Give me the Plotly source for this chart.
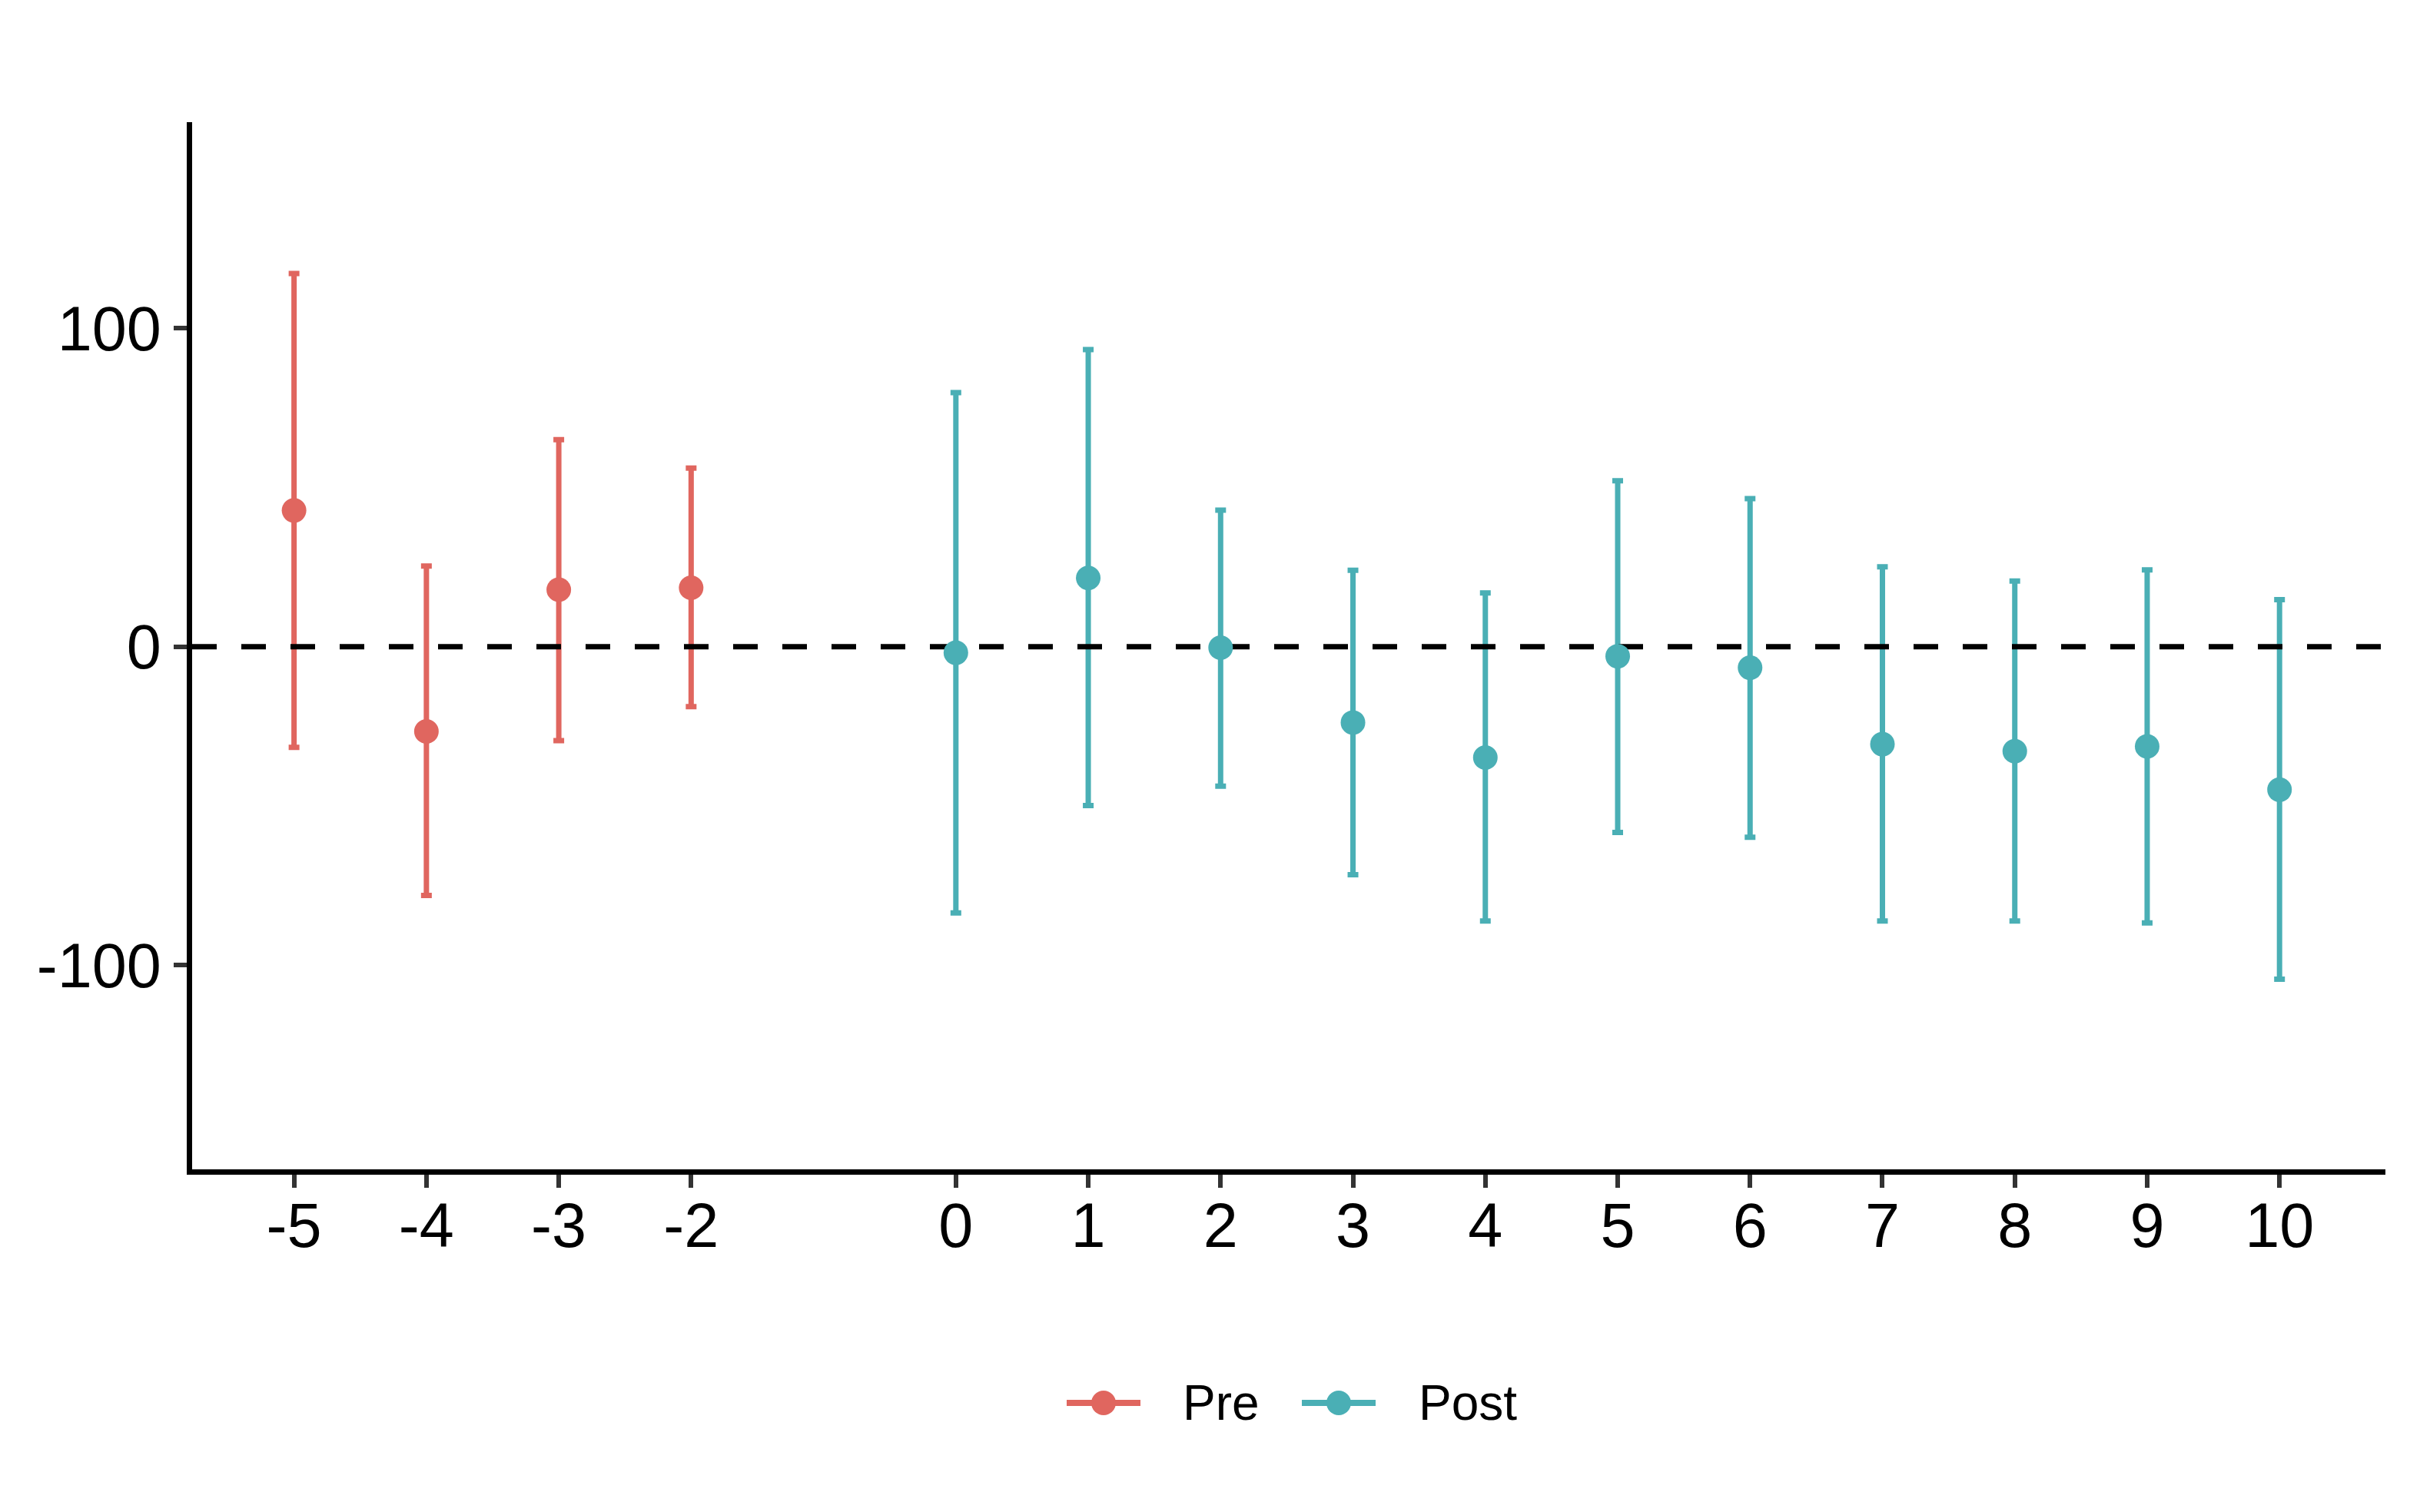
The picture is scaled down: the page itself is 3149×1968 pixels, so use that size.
import plotly.graph_objects as go

# ---- data ----
pre_x = [-5, -4, -3, -2]
pre_est = [42.8, -26.6, 17.9, 18.5]
pre_low = [-31.6, -78.1, -29.5, -18.8]
pre_high = [117.2, 25.3, 65.0, 56.1]

post_x = [0, 1, 2, 3, 4, 5, 6, 7, 8, 9, 10]
post_est = [-1.9, 21.6, -0.3, -23.8, -34.8, -3.0, -6.6, -30.6, -32.8, -31.3, -44.9]
post_low = [-83.6, -49.9, -43.8, -71.6, -86.1, -58.3, -59.8, -86.1, -86.1, -86.7, -104.4]
post_high = [79.8, 93.3, 42.9, 24.0, 16.9, 52.1, 46.5, 25.1, 20.6, 24.1, 14.8]

x_ticks = [-5, -4, -3, -2, 0, 1, 2, 3, 4, 5, 6, 7, 8, 9, 10]
y_ticks = [-100, 0, 100]
ref_y = 0
x_range = [-5.77, 10.8]
y_range = [-164.1, 164.7]

PRE_COL = "#E0665F"
POST_COL = "#4AAFB5"
FONT = "Liberation Sans, Arial, sans-serif"

W, H = 3149, 1968
L, R, T, B = 250, 45, 159, 446

fig = go.Figure()

# error bars (ranges)
for xs, est, lo, hi, col in [(pre_x, pre_est, pre_low, pre_high, PRE_COL),
                             (post_x, post_est, post_low, post_high, POST_COL)]:
    fig.add_trace(go.Scatter(
        x=xs, y=est, mode="markers",
        marker=dict(size=1, color=col, opacity=0),
        error_y=dict(type="data", symmetric=False,
                     array=[h - e for h, e in zip(hi, est)],
                     arrayminus=[e - l for e, l in zip(est, lo)],
                     color=col, thickness=7, width=7),
        showlegend=False, hoverinfo="skip"))

# dashed reference line
fig.add_trace(go.Scatter(
    x=x_range, y=[ref_y, ref_y], mode="lines",
    line=dict(color="black", width=7, dash="32px,32px"),
    showlegend=False, hoverinfo="skip", cliponaxis=False))

# points
for xs, est, col, name in [(pre_x, pre_est, PRE_COL, "Pre"),
                           (post_x, post_est, POST_COL, "Post")]:
    fig.add_trace(go.Scatter(
        x=xs, y=est, mode="markers",
        marker=dict(size=32, color=col, line=dict(width=0)),
        name=name, showlegend=False))

# ---- manual legend (pixel positions) ----
PW = W - L - R
PH = H - T - B


def px2paper_x(px):
    return (px - L) / PW


def py2paper_y(py):
    return (H - B - py) / PH


legend_items = [("Pre", PRE_COL, 1436, 1537), ("Post", POST_COL, 1742, 1844)]
leg_y = 1826
shapes = []
annotations = []
for name, col, cx, tx in legend_items:
    ax = px2paper_x(cx)
    ay = py2paper_y(leg_y)
    shapes.append(dict(type="line", xref="paper", yref="paper",
                       xsizemode="pixel", ysizemode="pixel",
                       xanchor=ax, yanchor=ay, x0=-48, x1=48, y0=0, y1=0,
                       line=dict(color=col, width=8)))
    shapes.append(dict(type="circle", xref="paper", yref="paper",
                       xsizemode="pixel", ysizemode="pixel",
                       xanchor=ax, yanchor=ay, x0=-16, x1=16, y0=-16, y1=16,
                       fillcolor=col, line=dict(width=0)))
    annotations.append(dict(text=name, xref="paper", yref="paper",
                            x=px2paper_x(tx), y=ay, xanchor="left", yanchor="middle",
                            showarrow=False, font=dict(family=FONT, size=64, color="black")))

fig.update_layout(
    width=W, height=H,
    margin=dict(l=L, r=R, t=T, b=B, pad=0),
    paper_bgcolor="white", plot_bgcolor="white",
    font=dict(family=FONT, color="black"),
    shapes=shapes, annotations=annotations,
    showlegend=False,
    xaxis=dict(range=x_range, tickvals=x_ticks, ticktext=[str(v) for v in x_ticks],
               showgrid=False, zeroline=False, showline=True, linecolor="black", linewidth=7,
               ticks="outside", ticklen=17, tickwidth=6, tickcolor="#333333",
               ticklabelstandoff=-20,
               tickfont=dict(family=FONT, size=81, color="black")),
    yaxis=dict(range=y_range, tickvals=y_ticks, ticktext=[str(v) for v in y_ticks],
               showgrid=False, zeroline=False, showline=True, linecolor="black", linewidth=7,
               ticks="outside", ticklen=17, tickwidth=6, tickcolor="#333333",
               tickfont=dict(family=FONT, size=81, color="black")),
)

fig.write_html("out.html", config={"displayModeBar": False},
               post_script="document.body.style.margin='0';")
